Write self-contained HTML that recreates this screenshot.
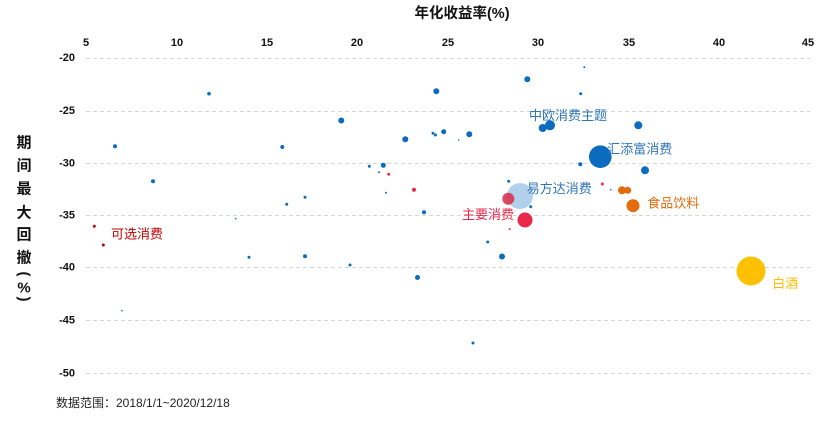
<!DOCTYPE html>
<html><head><meta charset="utf-8"><style>
html,body{margin:0;padding:0;background:#fff;}
svg{display:block;}
text{font-family:"Liberation Sans","Noto Sans CJK SC",sans-serif;}
</style></head><body>
<svg width="833" height="423" viewBox="0 0 833 423" xmlns="http://www.w3.org/2000/svg">
<rect width="833" height="423" fill="#fff"/>
<text x="462" y="14" text-anchor="middle" dominant-baseline="central" font-size="14.5" font-weight="bold" fill="#111">年化收益率(%)</text>
<g font-size="11" font-weight="bold" fill="#111" text-anchor="middle" dominant-baseline="central">
<text x="86" y="43">5</text><text x="177" y="43">10</text><text x="267" y="43">15</text><text x="357" y="43">20</text><text x="448" y="43">25</text><text x="538" y="43">30</text><text x="629" y="43">35</text><text x="719" y="43">40</text><text x="808" y="43">45</text>
</g>
<g font-size="11" font-weight="bold" fill="#111" text-anchor="end" dominant-baseline="central">
<text x="75" y="58">-20</text><text x="75" y="111">-25</text><text x="75" y="163.3">-30</text><text x="75" y="215.7">-35</text><text x="75" y="267.7">-40</text><text x="75" y="320.7">-45</text><text x="75" y="373.3">-50</text>
</g>
<g stroke="#d6d6d6" stroke-width="1" stroke-dasharray="4,3">
<line x1="86" y1="58.5" x2="810" y2="58.5"/><line x1="86" y1="111.5" x2="810" y2="111.5"/><line x1="86" y1="163.5" x2="810" y2="163.5"/><line x1="86" y1="215.5" x2="810" y2="215.5"/><line x1="86" y1="267.5" x2="810" y2="267.5"/><line x1="86" y1="320.5" x2="810" y2="320.5"/><line x1="86" y1="373.5" x2="810" y2="373.5"/>
</g>
<g font-size="15" font-weight="bold" fill="#111" text-anchor="middle" dominant-baseline="central">
<text x="24" y="143">期</text><text x="24" y="166">间</text><text x="24" y="189">最</text><text x="24" y="213">大</text><text x="24" y="235">回</text><text x="24" y="258">撤</text>
<text x="24" y="288">%</text>
</g>
<g font-size="15" font-weight="bold" fill="#111" text-anchor="middle" dominant-baseline="central">
<text x="0" y="0" transform="translate(24,274) rotate(90)">(</text>
<text x="0" y="0" transform="translate(24,299) rotate(90)">)</text>
</g>
<text x="56" y="403" dominant-baseline="central" font-size="12" fill="#222">数据范围：2018/1/1~2020/12/18</text>
<g fill="#0b6cbd">
<circle cx="115" cy="146.3" r="2"/><circle cx="209" cy="93.7" r="1.8"/><circle cx="282.3" cy="147" r="2"/><circle cx="341.3" cy="120.5" r="3"/><circle cx="405.3" cy="139.3" r="3"/><circle cx="436.3" cy="91.3" r="3"/><circle cx="433" cy="133.3" r="1.5"/><circle cx="435.5" cy="135" r="1.5"/><circle cx="443.7" cy="131.7" r="2.5"/><circle cx="458.7" cy="140" r="0.8"/><circle cx="469.3" cy="134.3" r="3"/><circle cx="527.3" cy="79.3" r="3"/><circle cx="584.3" cy="67.3" r="1"/><circle cx="580.7" cy="93.7" r="1.5"/><circle cx="542.7" cy="128" r="4"/><circle cx="550" cy="125.3" r="5"/><circle cx="638.3" cy="125.3" r="4"/><circle cx="600.3" cy="156.7" r="11.3"/><circle cx="580.3" cy="164.3" r="2"/><circle cx="645" cy="170.3" r="4"/><circle cx="369.3" cy="166.3" r="1.5"/><circle cx="383.3" cy="165.3" r="2.5"/><circle cx="379" cy="172.3" r="1"/><circle cx="386" cy="192.7" r="1"/><circle cx="153" cy="181.3" r="2"/><circle cx="305" cy="197.3" r="1.5"/><circle cx="286.7" cy="204.3" r="1.5"/><circle cx="235.7" cy="218.7" r="0.8"/><circle cx="508.7" cy="181.3" r="1.5"/><circle cx="424" cy="212.3" r="2"/><circle cx="610.7" cy="189.7" r="0.8"/><circle cx="249" cy="257.3" r="1.5"/><circle cx="305" cy="256.3" r="2"/><circle cx="350" cy="265" r="1.5"/><circle cx="417.5" cy="277.5" r="2.5"/><circle cx="487.7" cy="242" r="1.5"/><circle cx="502" cy="256.5" r="3"/><circle cx="473" cy="343" r="1.5"/><circle cx="122" cy="310.7" r="0.8"/>
</g>
<circle cx="520" cy="196" r="13" fill="#a9cbe9" fill-opacity="0.9"/>
<circle cx="530.7" cy="206.7" r="1.5" fill="#0b6cbd"/>
<g fill="#e8294a">
<circle cx="414" cy="189.7" r="2"/><circle cx="388.7" cy="174.3" r="1.5"/><circle cx="602.3" cy="184" r="1.5"/><circle cx="509.7" cy="229" r="1"/><circle cx="508.3" cy="198.7" r="6" fill="#d83350" fill-opacity="0.9"/><circle cx="525" cy="220" r="7.5"/>
</g>
<g fill="#c00000">
<circle cx="94.3" cy="226.3" r="1.5"/><circle cx="103.3" cy="245" r="1.5"/>
</g>
<g fill="#e46c0a">
<circle cx="622" cy="190.3" r="4"/><circle cx="627.7" cy="190.3" r="3.5"/><circle cx="633" cy="205.7" r="6.5"/>
</g>
<circle cx="751" cy="271" r="14.5" fill="#ffc000"/>
<g font-size="13" dominant-baseline="central">
<text x="529" y="115.3" fill="#2e75b6">中欧消费主题</text>
<text x="607.3" y="149" fill="#2e75b6">汇添富消费</text>
<text x="526.7" y="188.7" fill="#2e75b6">易方达消费</text>
<text x="462" y="214.3" fill="#e8294a">主要消费</text>
<text x="111" y="234" fill="#c00000">可选消费</text>
<text x="647.3" y="203" fill="#e46c0a">食品饮料</text>
<text x="772.3" y="283.3" fill="#ffc000">白酒</text>
</g>
</svg>
</body></html>
